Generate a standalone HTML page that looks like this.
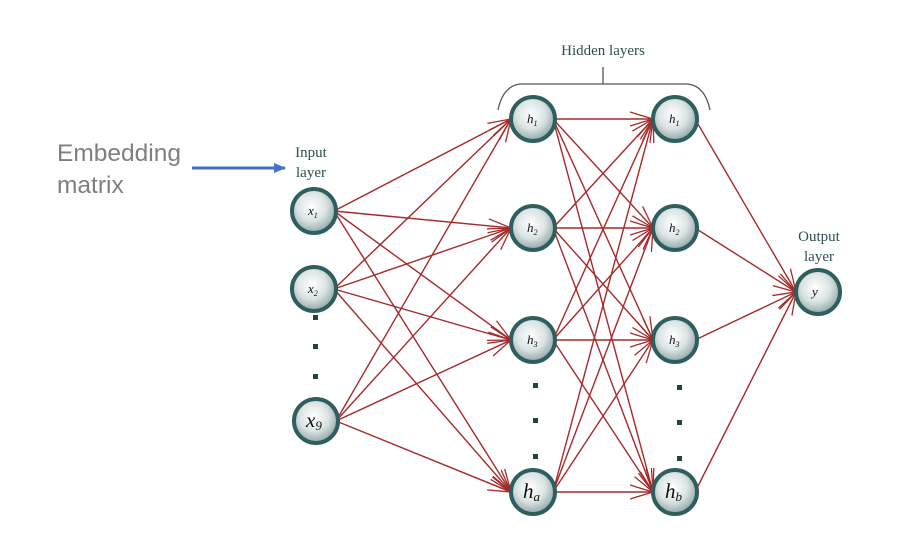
<!DOCTYPE html>
<html><head><meta charset="utf-8"><style>
html,body{margin:0;padding:0;background:#fff;}
svg{display:block}
</style></head><body>
<svg id="s" width="900" height="558" viewBox="0 0 900 558" xmlns="http://www.w3.org/2000/svg">
<defs>
<radialGradient id="g" cx="45%" cy="40%" r="60%">
<stop offset="0" stop-color="#ffffff"/><stop offset="0.55" stop-color="#dbe3e3"/><stop offset="1" stop-color="#8fa6a6"/>
</radialGradient>
<marker id="a" markerWidth="24" markerHeight="16" refX="23" refY="8" orient="auto" markerUnits="userSpaceOnUse">
<path d="M0,1 L23,8 L0,15" fill="none" stroke="#a52a2a" stroke-width="1.3"/>
</marker>
<marker id="b" markerWidth="12" markerHeight="10" refX="11" refY="5" orient="auto" markerUnits="userSpaceOnUse">
<path d="M0,0 L12,5 L0,10 z" fill="#4472c4"/>
</marker>
</defs>
<g id="edges" stroke="#a52a2a" stroke-width="1.4" fill="none"></g>
<g id="nodes"></g>
<text x="57" y="161" font-family="Liberation Sans, sans-serif" font-size="24.5" fill="#7f7f7f">Embedding</text>
<text x="57" y="193" font-family="Liberation Sans, sans-serif" font-size="24.5" fill="#7f7f7f">matrix</text>
<line x1="192" y1="168" x2="285" y2="168" stroke="#4472c4" stroke-width="3" marker-end="url(#b)"/>
<g font-family="Liberation Serif, serif" font-size="15" fill="#2f4f4f" text-anchor="middle">
<text x="311" y="157">Input</text><text x="311" y="177">layer</text>
<text x="819" y="241">Output</text><text x="819" y="261">layer</text>
<text x="603" y="55">Hidden layers</text>
</g>
<path d="M498,110 Q503,86 520,84 L688,84 Q705,86 710,110 M603,84 L603,67" fill="none" stroke="#555" stroke-width="1.3"/>
<g fill="#1f4444">
<rect x="313" y="315" width="5" height="5"/><rect x="313" y="344" width="5" height="5"/><rect x="313" y="374" width="5" height="5"/>
<rect x="533" y="383" width="5" height="5"/><rect x="533" y="418" width="5" height="5"/><rect x="533" y="454" width="5" height="5"/>
<rect x="677" y="385" width="5" height="5"/><rect x="677" y="420" width="5" height="5"/><rect x="677" y="456" width="5" height="5"/>
</g>
</svg>
<script>
var NS="http://www.w3.org/2000/svg";
var L0=[[314,211,"x","1"],[314,289,"x","2"],[316,421,"x","9"]];
var L1=[[533,119,"h","1"],[533,228,"h","2"],[533,340,"h","3"],[533,492,"h","a"]];
var L2=[[675,119,"h","1"],[675,228,"h","2"],[675,340,"h","3"],[675,492,"h","b"]];
var L3=[[818,292,"y",""]];
var E=document.getElementById("edges"),N=document.getElementById("nodes");
function conn(A,B){A.forEach(function(p){B.forEach(function(q){
 var l=document.createElementNS(NS,"line");
 l.setAttribute("x1",p[0]+20);l.setAttribute("y1",p[1]);
 l.setAttribute("x2",q[0]-22);l.setAttribute("y2",q[1]);
 l.setAttribute("marker-end","url(#a)");E.appendChild(l);});});}
conn(L0,L1);conn(L1,L2);conn(L2,L3);
[L0,L1,L2,L3].forEach(function(L){L.forEach(function(p){
 var c=document.createElementNS(NS,"circle");
 c.setAttribute("cx",p[0]);c.setAttribute("cy",p[1]);c.setAttribute("r",22);
 c.setAttribute("fill","url(#g)");c.setAttribute("stroke","#2f5e5e");c.setAttribute("stroke-width","4");N.appendChild(c);
 var big=(p[3]=="9"||p[3]=="a"||p[3]=="b");
 var t=document.createElementNS(NS,"text");
 t.setAttribute("x",p[0]-(big?10:6));t.setAttribute("y",p[1]+(big?6:4));
 t.setAttribute("font-family","Liberation Serif, serif");t.setAttribute("font-style","italic");
 t.setAttribute("font-size",big?"21":"13");t.setAttribute("fill","#111");
 t.textContent=p[2];
 var s=document.createElementNS(NS,"tspan");s.setAttribute("font-size",big?"13":"8");s.setAttribute("dy","3");s.textContent=p[3];
 t.appendChild(s);N.appendChild(t);});});
</script>
</body></html>
